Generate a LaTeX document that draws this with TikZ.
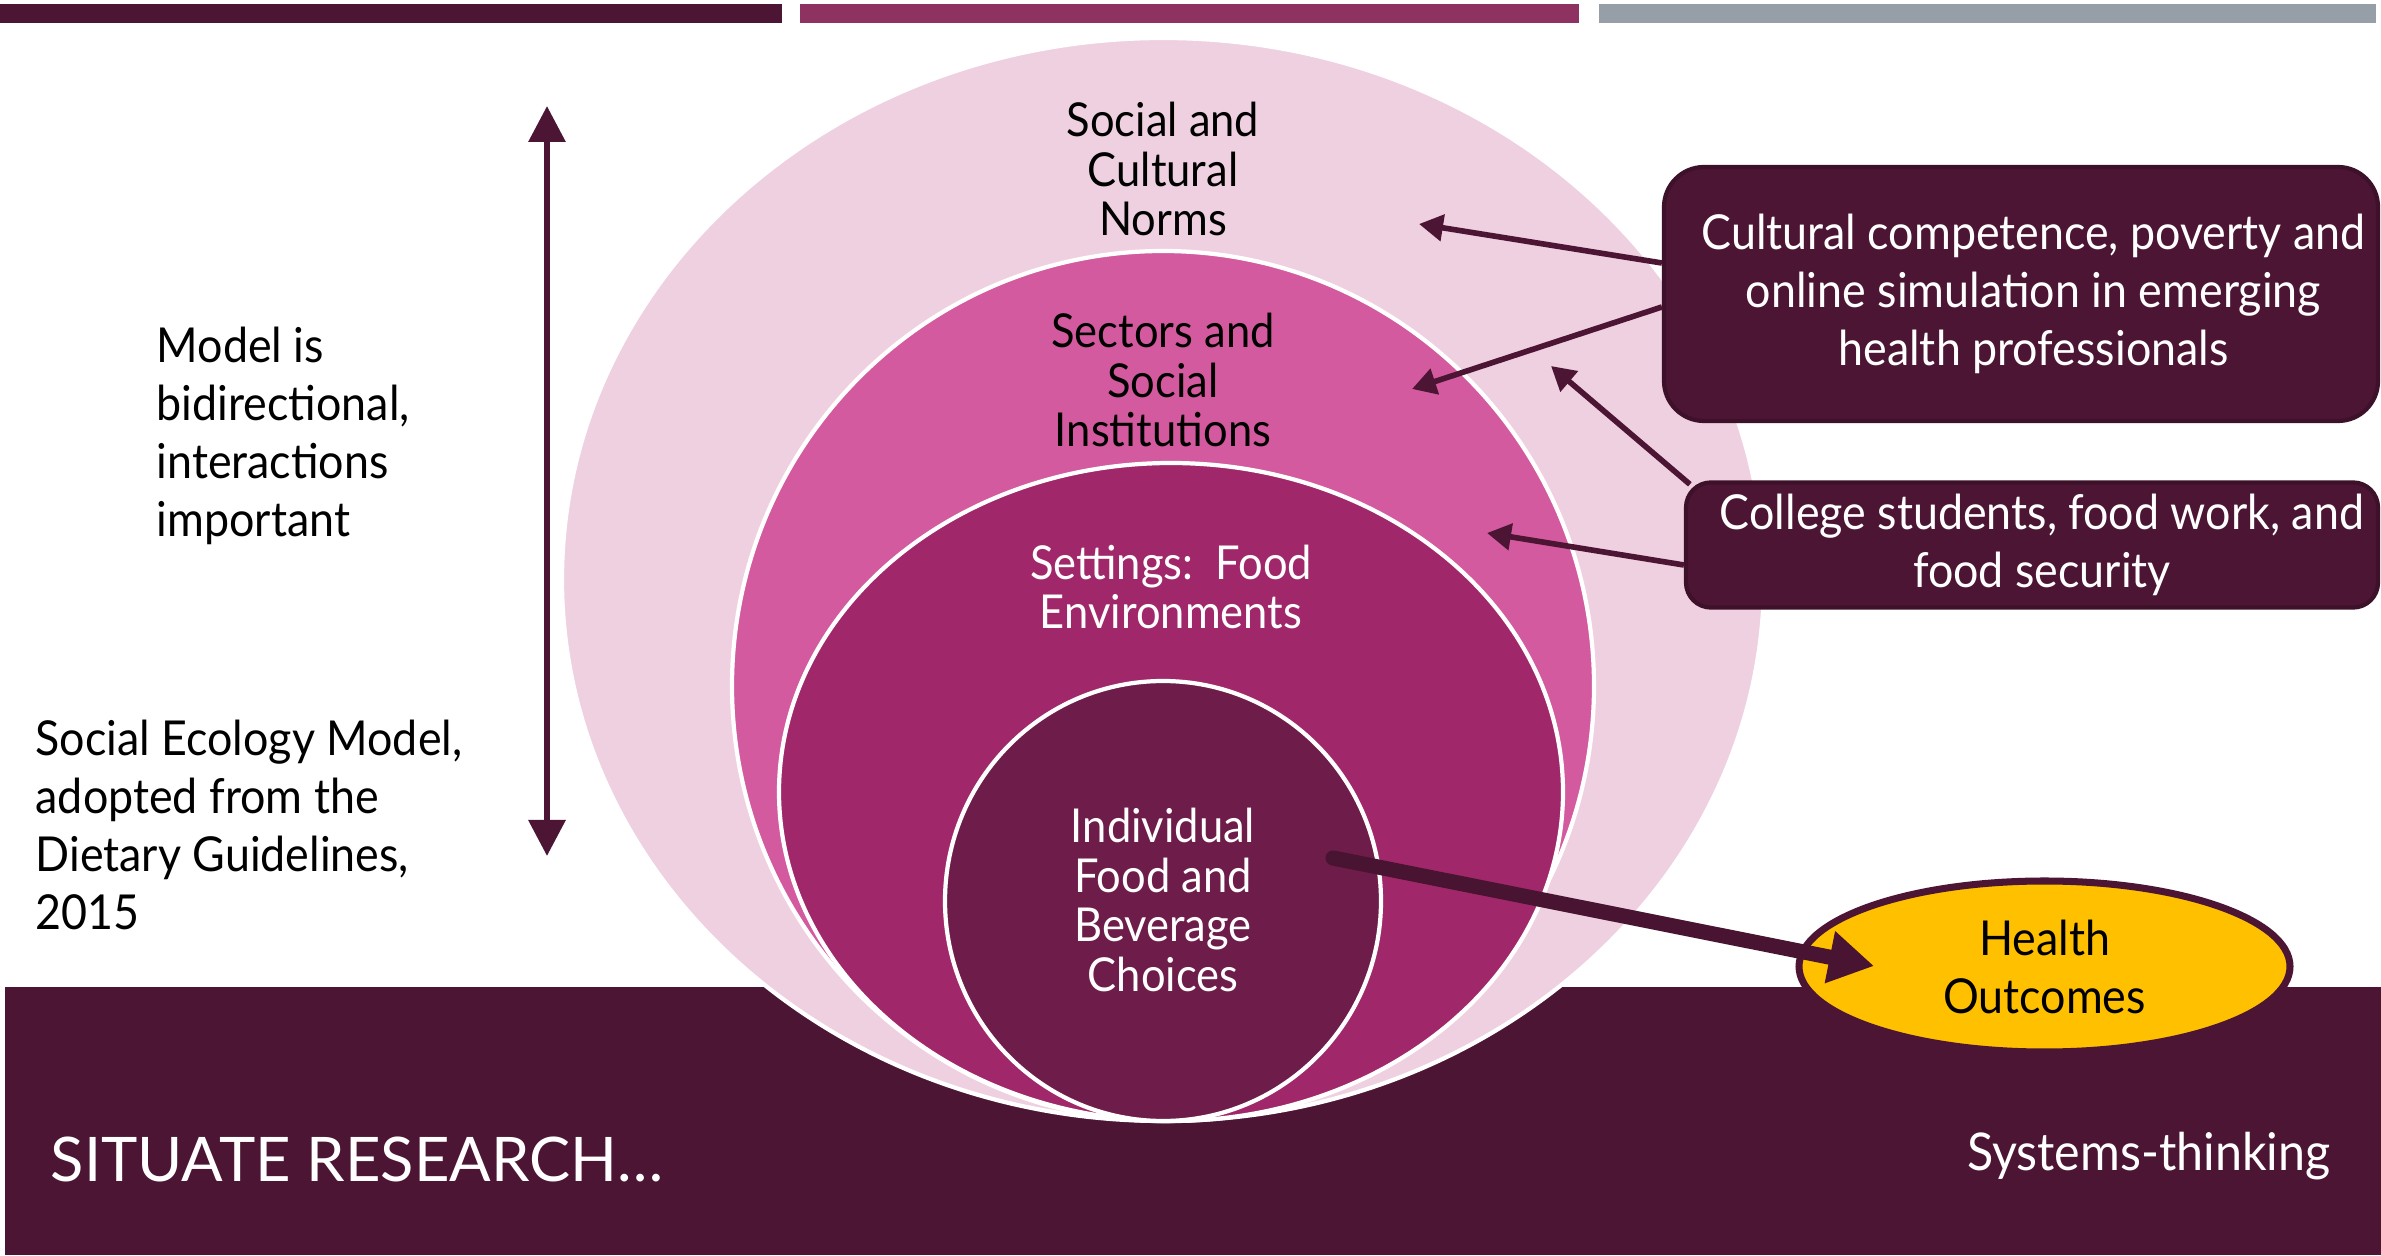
\documentclass[tikz,border=0pt]{standalone}
\usepackage{fontspec}
\setmainfont{Lato}[FakeStretch=0.93]
\newfontfamily\narrowfont{Lato}[FakeStretch=0.93]
\newfontfamily\widefont{Lato}
\usetikzlibrary{shapes.geometric, arrows.meta, positioning}
\definecolor{maroon}{RGB}{76,21,52}
\definecolor{plum}{RGB}{142,50,98}
\definecolor{slate}{RGB}{150,158,167}
\definecolor{blush}{RGB}{239,208,224}
\definecolor{orchid}{RGB}{211,90,158}
\definecolor{berry}{RGB}{160,40,106}
\definecolor{wine}{RGB}{110,28,74}
\definecolor{gold}{RGB}{255,192,0}
\newcommand{\bodysize}{\fontsize{13.7}{16.5}\selectfont}
\newcommand{\ringsize}{\fontsize{13.3}{14.2}\selectfont\narrowfont}

\begin{document}
\begin{tikzpicture}[
    ring/.style={ellipse, fill=#1, draw=white, line width=1.2pt, inner sep=0pt},
    topic/.style={draw=maroon!80!black, line width=1.2pt, fill=maroon, text=white,
                  align=center, font=\bodysize\narrowfont},
    ringlabel/.style={align=center, font=\ringsize, inner sep=0pt},
    sidetext/.style={align=left, font=\bodysize, inner sep=0pt, anchor=west},
    link/.style={-{Triangle[length=0.24cm, width=0.26cm]}, line width=1.6pt, maroon}
]
    \useasboundingbox (0,0) rectangle (23.81,12.55);
    \fill[white] (0,0) rectangle (23.81,12.55);

    % Header bars and footer band
    \fill[maroon] (0,12.32) rectangle (7.82,12.51);
    \fill[plum] (8.00,12.32) rectangle (15.79,12.51);
    \fill[slate] (15.99,12.32) rectangle (23.76,12.51);
    \fill[maroon] (0.05,0) rectangle (23.81,2.68);

    % Nested rings
    \node[ring=blush, minimum width=12.02cm, minimum height=10.83cm] (norms) at (11.63,6.755) {};
    \node[ring=orchid, minimum width=8.62cm, minimum height=8.70cm] (sectors) at (11.63,5.69) {};
    \node[ring=berry, minimum width=7.84cm, minimum height=6.58cm] (settings) at (11.71,4.63) {};
    \node[ring=wine, minimum width=4.36cm, minimum height=4.40cm] (indiv) at (11.63,3.54) {};

    \node[ringlabel] (normslbl) at (11.63,10.86) {Social and\\Cultural\\Norms};
    \node[ringlabel] (sectorslbl) at (11.63,8.75) {Sectors and\\Social\\Institutions};
    \node[ringlabel, text=white] (settingslbl) at (11.71,6.68) {Settings:\ \ Food\\Environments};
    \node[ringlabel, text=white] (indivlbl) at (11.63,3.55) {Individual\\Food and\\Beverage\\Choices};

    % Side notes
    \node[sidetext] (bidir) at (1.56,8.195) {Model is\\bidirectional,\\interactions\\important};
    \node[sidetext] (source) at (0.35,4.305) {Social Ecology Model,\\adopted from the\\Dietary Guidelines,\\2015};
    \coordinate (lowpt) at (5.47,3.99);
    \coordinate (highpt) at (5.47,11.49);
    \draw[{Triangle[length=0.36cm, width=0.36cm]}-{Triangle[length=0.36cm, width=0.36cm]},
          line width=1.8pt, maroon] (lowpt) -- (highpt);

    % Research boxes
    \node[topic, rounded corners=0.4cm, minimum width=7.14cm, minimum height=2.54cm] (cult) at (20.21,9.61)
        {\hspace*{0.25cm}Cultural competence, poverty and\\\hspace*{0.25cm}online simulation in emerging\\\hspace*{0.25cm}health professionals};
    \node[topic, rounded corners=0.25cm, minimum width=6.92cm, minimum height=1.24cm] (coll) at (20.32,7.10)
        {\hspace*{0.2cm}College students, food work, and\\\hspace*{0.2cm}food security};

    % Arrows into the rings
    \coordinate (normspt) at (14.19,10.31);
    \coordinate (sectpt) at (14.12,8.66);
    \coordinate (edgept) at (15.51,8.89);
    \coordinate (setpt) at (14.87,7.22);
    \draw[link] ([yshift=0.31cm]cult.west) -- (normspt);
    \draw[link] ([yshift=-0.13cm]cult.west) -- (sectpt);
    \draw[link] ([xshift=0.06cm, yshift=-0.04cm]coll.north west) -- (edgept);
    \draw[link] ([yshift=-0.2cm]coll.west) -- (setpt);

    % Health outcomes
    \node[ellipse, draw=maroon, line width=2pt, fill=gold, minimum width=4.91cm, minimum height=1.71cm,
          align=center, font=\bodysize\narrowfont] (health) at (20.445,2.885) {Health\\Outcomes};
    \coordinate (choicept) at (13.33,3.97);
    \coordinate (healthpt) at (18.74,2.89);
    \draw[maroon!95!black, line width=4.3pt, line cap=round, -{Triangle[length=0.45cm, width=0.5cm]}]
        (choicept) -- (healthpt);

    % Footer text
    \node[anchor=west, text=white, font=\fontsize{17.5}{20}\selectfont\widefont, inner sep=0pt] (situate) at (0.50,0.96)
        {SITUATE RESEARCH…};
    \node[anchor=east, text=white, font=\fontsize{14.8}{17}\selectfont\narrowfont, inner sep=0pt] (systems) at (23.31,0.99)
        {Systems-thinking};
\end{tikzpicture}
\end{document}
